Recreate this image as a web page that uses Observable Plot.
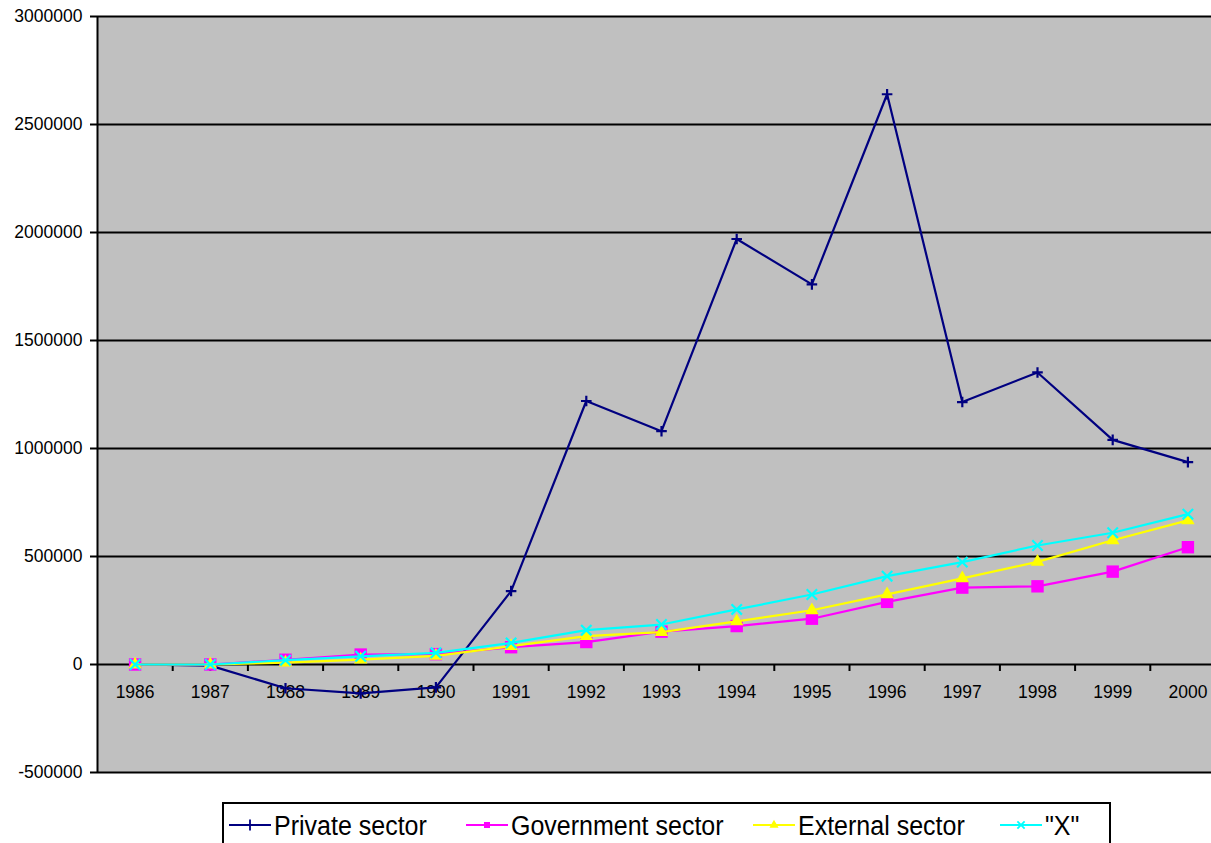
<!DOCTYPE html>
<html>
<head>
<meta charset="utf-8">
<script src="https://cdn.jsdelivr.net/npm/d3@7"></script>
<script src="https://cdn.jsdelivr.net/npm/@observablehq/plot@0.6"></script>
<style>
  html, body { margin: 0; padding: 0; background: #ffffff; }
  body { width: 1211px; height: 843px; position: relative; overflow: hidden; font-family: "Liberation Sans", Arial, sans-serif; }
  #chart { position: absolute; left: 0; top: 0; width: 1211px; overflow: hidden; }
  #legend { position: absolute; left: 222px; top: 802px; width: 885px; height: 50px; border: 2px solid #000; background: #fff; }
  .item { position: absolute; top: 6px; height: 30px; display: flex; align-items: center; font-size: 25px; color: #000; white-space: nowrap; }
  .item svg { margin-right: 3px; }
  .item span { display: inline-block; transform: scaleY(1.08); }
</style>
</head>
<body>
<div id="chart"></div>
<div id="legend"></div>
<script>
// Annual values by sector, 1986–2000
const years = [1986, 1987, 1988, 1989, 1990, 1991, 1992, 1993, 1994, 1995, 1996, 1997, 1998, 1999, 2000];
const privateSector    = [0, -5000, -110000, -134000, -106000, 340000, 1220000, 1080000, 1970000, 1760000, 2640000, 1215000, 1352000, 1040000, 937000];
const governmentSector = [0, 0, 22000, 46000, 48000, 80000, 104000, 152000, 178000, 212000, 290000, 356000, 362000, 430000, 543000];
const externalSector   = [0, 0, 9000, 23000, 40000, 85000, 131000, 150000, 200000, 251000, 325000, 399000, 475000, 575000, 667000];
const xSector          = [0, 0, 20000, 38000, 54000, 100000, 159000, 185000, 255000, 324000, 409000, 474000, 551000, 610000, 696000];
const yTicks = [-500000, 0, 500000, 1000000, 1500000, 2000000, 2500000, 3000000];

const seriesNames = ["Private sector", "Government sector", "External sector", "\"X\""];
const seriesValues = [privateSector, governmentSector, externalSector, xSector];
const seriesColors = ["#000080", "#FF00FF", "#FFFF00", "#00FFFF"];
const seriesSymbols = ["plus", "square", "triangle", "times"];
const seriesRadius = [3.5, 7, 5, 4.8];

const rows = seriesNames.map((name, s) => years.map((year, i) => ({series: name, year, value: seriesValues[s][i]})));

// category boundaries between years
const boundaries = d3.range(1986.5, 2000.5, 1);

// the plot area runs a little past the right edge of the page
const chartW = 1225, chartH = 800, mTop = 16, mBottom = 28;
const yDomain = [-500000, 3000000];
// data units per pixel, for the short tick marks under the zero line
const unitsPerPx = (yDomain[1] - yDomain[0]) / (chartH - mTop - mBottom);

const marks = [
  Plot.frame({fill: "#C0C0C0", stroke: "none"}),
  Plot.ruleY(yTicks, {stroke: "#000", strokeWidth: 2}),
  Plot.ruleX([1985.5], {stroke: "#000", strokeWidth: 2}),
  Plot.ruleX(boundaries, {y1: 0, y2: -7 * unitsPerPx, stroke: "#000", strokeWidth: 2}),
  Plot.text(years, {x: d => d, y: 0, text: d => String(d), dy: 28, fontSize: 17.5, fill: "#000"}),
  Plot.axisY(yTicks, {label: null, tickSize: 7, tickPadding: 8, tickFormat: d => String(d), fontSize: 17.5, stroke: "#000", strokeWidth: 2, color: "#000"})
];

rows.forEach((data, s) => {
  marks.push(Plot.line(data, {x: "year", y: "value", stroke: seriesColors[s], strokeWidth: 2.2}));
  const stroked = seriesSymbols[s] === "plus" || seriesSymbols[s] === "times";
  marks.push(Plot.dot(data, {
    x: "year", y: "value", symbol: () => seriesSymbols[s], r: seriesRadius[s],
    fill: stroked ? "none" : seriesColors[s],
    stroke: stroked ? seriesColors[s] : "none",
    strokeWidth: stroked ? 2.2 : 0
  }));
});

const chart = Plot.plot({
  width: chartW,
  height: chartH,
  marginLeft: 97,
  marginRight: 0,
  marginTop: mTop,
  marginBottom: mBottom,
  style: {fontFamily: "'Liberation Sans', Arial, sans-serif", background: "#ffffff", maxWidth: "none"},
  x: {type: "linear", domain: [1985.5, 2000.5], axis: null},
  y: {domain: yDomain, axis: null},
  symbol: {type: "identity"},
  marks
});
document.getElementById("chart").appendChild(chart);

// legend entries: line sample with marker, then name
const legendLeft = [5, 242, 529, 776];
const legend = document.getElementById("legend");
seriesNames.forEach((name, s) => {
  const item = document.createElement("div");
  item.className = "item";
  item.style.left = legendLeft[s] + "px";
  const svg = d3.create("svg").attr("width", 42).attr("height", 20);
  svg.append("line").attr("x1", 0).attr("x2", 42).attr("y1", 10).attr("y2", 10)
    .attr("stroke", seriesColors[s]).attr("stroke-width", 2);
  const sym = d3.symbol().type({
    plus: d3.symbolPlus, square: d3.symbolSquare, triangle: d3.symbolTriangle, times: d3.symbolTimes
  }[seriesSymbols[s]]).size(seriesSymbols[s] === "plus" ? 40 : 36);
  const stroked = seriesSymbols[s] === "plus" || seriesSymbols[s] === "times";
  svg.append("path").attr("d", sym()).attr("transform", "translate(21,10)")
    .attr("fill", stroked ? "none" : seriesColors[s])
    .attr("stroke", stroked ? seriesColors[s] : "none")
    .attr("stroke-width", stroked ? 1.8 : 0);
  item.appendChild(svg.node());
  const label = document.createElement("span");
  label.textContent = name;
  item.appendChild(label);
  legend.appendChild(item);
});
</script>
</body>
</html>
